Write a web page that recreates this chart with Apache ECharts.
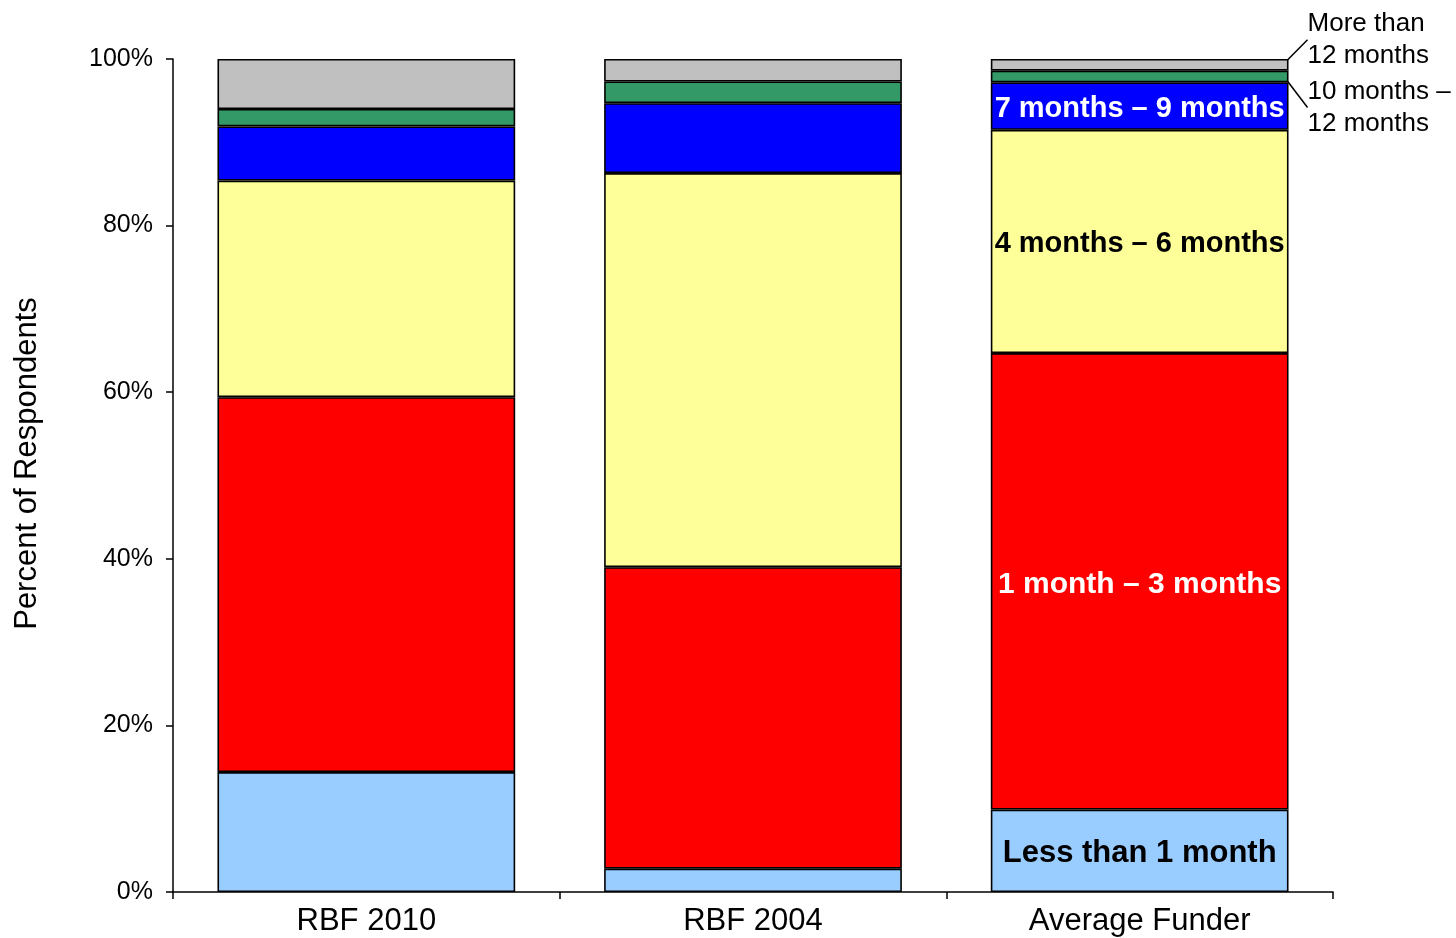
<!DOCTYPE html>
<html>
<head>
<meta charset="utf-8">
<script src="https://cdn.jsdelivr.net/npm/echarts@6/dist/echarts.min.js"></script>
<style>html,body{margin:0;padding:0;background:#fff;}#c{width:1456px;height:938px;}</style>
</head>
<body>
<div id="c"></div>
<script>
var categories = ['RBF 2010', 'RBF 2004', 'Average Funder'];
var seriesNames = ['Less than 1 month', '1 month \u2013 3 months', '4 months \u2013 6 months', '7 months \u2013 9 months', '10 months \u2013\n12 months', 'More than\n12 months'];
var lessThan1 = [14.4, 2.8, 9.9];
var m1to3 = [45.0, 36.2, 54.8];
var m4to6 = [26.0, 47.3, 26.8];
var m7to9 = [6.5, 8.4, 5.7];
var m10to12 = [2.1, 2.6, 1.4];
var moreThan12 = [6.0, 2.7, 1.4];
var yTicks = ['0%', '20%', '40%', '60%', '80%', '100%'];

var colors = ['#99ccff', '#ff0000', '#ffff99', '#0000ff', '#339966', '#c0c0c0'];
var insideColors = ['#000', '#fff', '#000', '#fff'];
var insideSizes = [31, 30, 29, 29];
var values = [lessThan1, m1to3, m4to6, m7to9, m10to12, moreThan12];
var FONT = '"Liberation Sans", Arial, sans-serif';

var series = values.map(function (vals, i) {
  var s = {
    name: seriesNames[i],
    type: 'bar',
    stack: 'total',
    barWidth: '77%',
    itemStyle: { color: colors[i], borderColor: '#000', borderWidth: 1.6 },
    emphasis: { disabled: true },
    data: vals.map(function (v, j) {
      var d = { value: v };
      if (j === 2) {
        if (i < 4) {
          d.label = {
            show: true, position: 'inside', offset: [0, 3], formatter: seriesNames[i],
            color: insideColors[i], fontSize: insideSizes[i], fontWeight: 'bold', fontFamily: FONT
          };
        } else {
          d.label = {
            show: true, position: 'right', formatter: seriesNames[i],
            color: '#000', fontSize: 26, lineHeight: 32, fontFamily: FONT, align: 'left'
          };
          d.labelLine = { show: true, lineStyle: { color: '#000', width: 1.5 } };
        }
      }
      return d;
    })
  };
  if (i === 4) {
    s.labelLayout = function (p) { return p.dataIndex === 2 ? { dx: 14, dy: 31 } : {}; };
  }
  if (i === 5) {
    s.labelLayout = function (p) { return p.dataIndex === 2 ? { dx: 14, dy: -25 } : {}; };
  }
  return s;
});

var chart = echarts.init(document.getElementById('c'), null, { renderer: 'canvas' });
chart.setOption({
  animation: false,
  backgroundColor: '#fff',
  grid: { left: 173, right: 123, top: 59, bottom: 46, containLabel: false },
  xAxis: {
    type: 'category',
    data: categories,
    axisLine: { lineStyle: { color: '#000', width: 1.5 } },
    axisTick: { show: true, alignWithLabel: false, length: 7, lineStyle: { color: '#000', width: 1.5 } },
    axisLabel: { color: '#000', fontSize: 31, fontFamily: FONT, margin: 14 }
  },
  yAxis: {
    type: 'value',
    min: 0, max: 100, interval: 20,
    name: 'Percent of Respondents',
    nameLocation: 'middle',
    nameGap: 130,
    nameTextStyle: { color: '#000', fontSize: 31, fontFamily: FONT, padding: [0, 0, 0, 24] },
    axisLine: { show: true, lineStyle: { color: '#000', width: 1.5 } },
    axisTick: { show: true, length: 7, lineStyle: { color: '#000', width: 1.5 } },
    splitLine: { show: false },
    axisLabel: {
      color: '#000', fontSize: 25, fontFamily: FONT, margin: 20,
      formatter: function (v) { return yTicks[Math.round(v / 20)]; }
    }
  },
  series: series
});
</script>
</body>
</html>
